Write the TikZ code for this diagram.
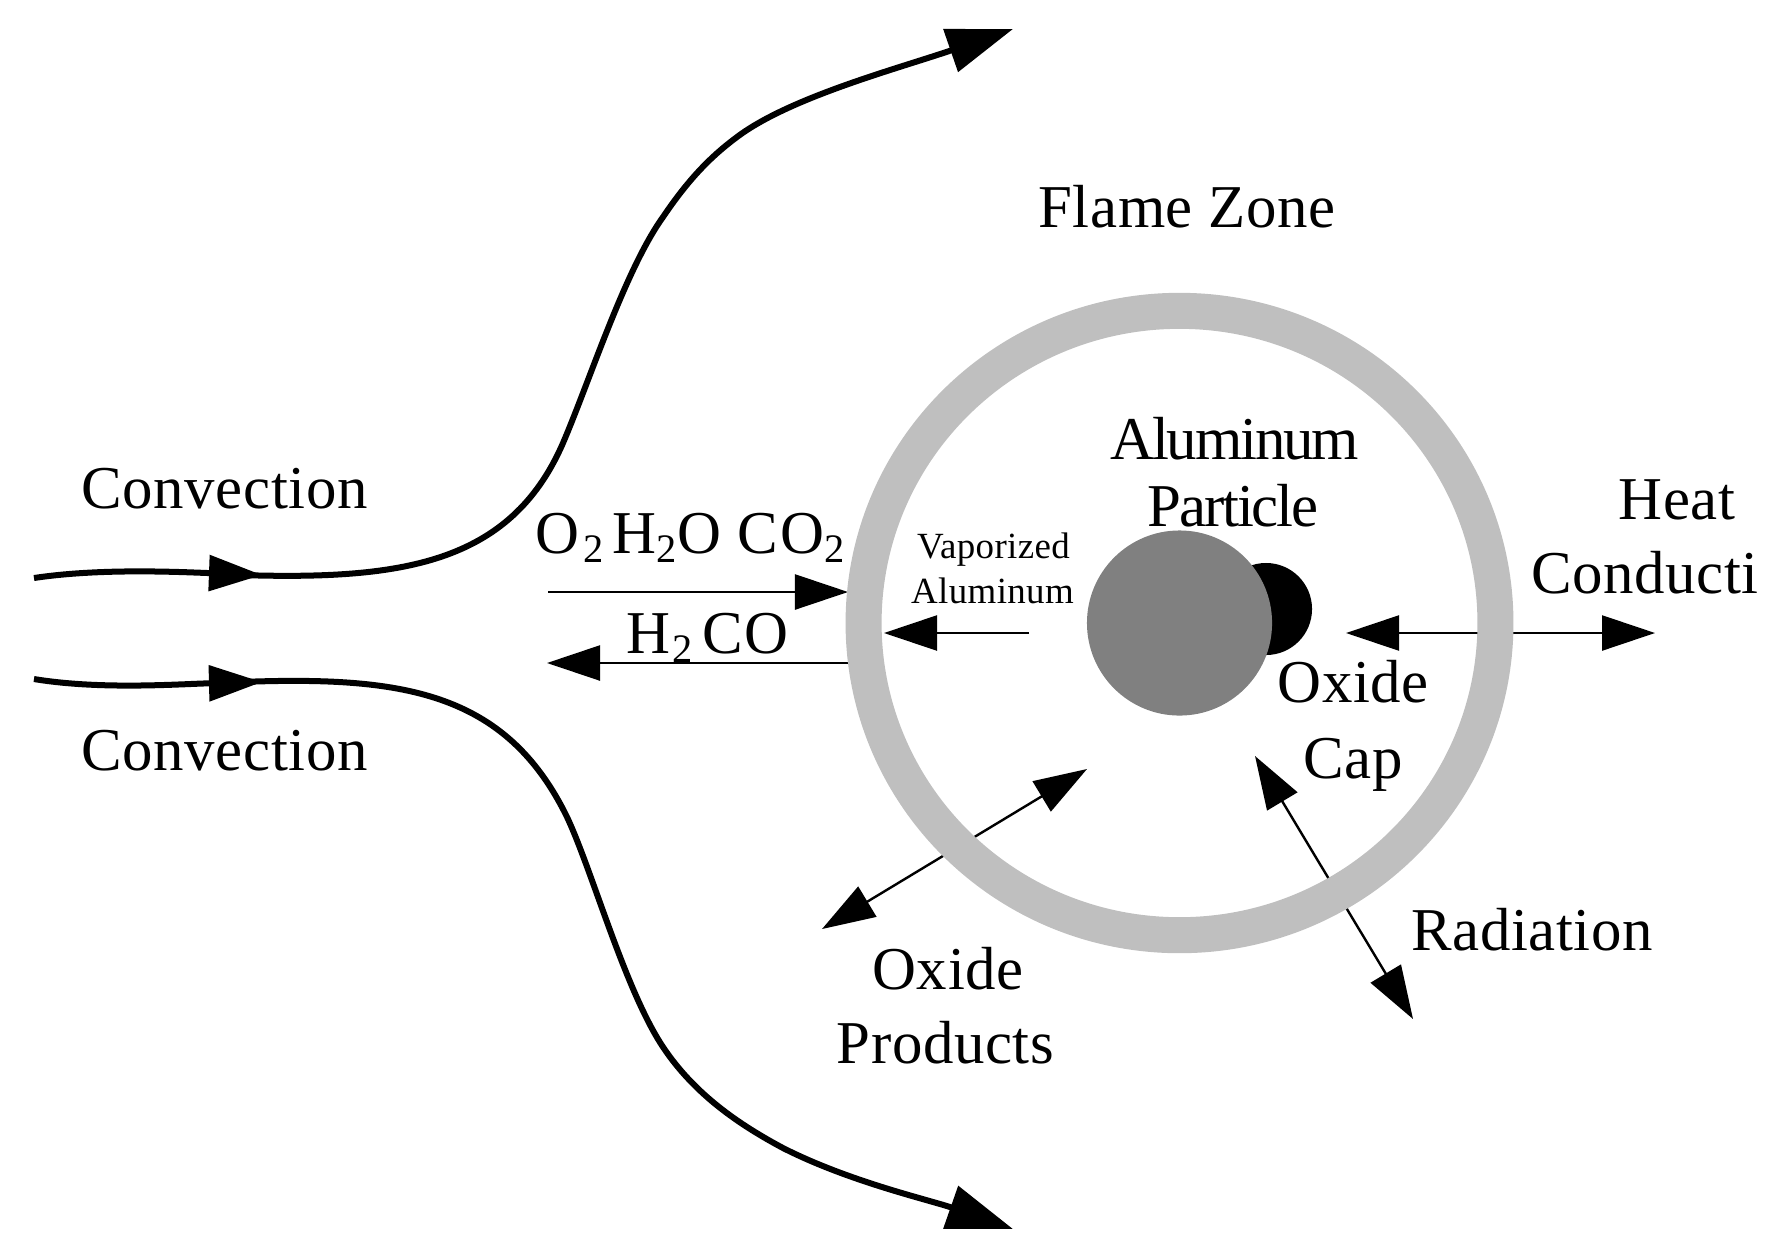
\documentclass[tikz,border=0pt]{standalone}
\usepackage{fontspec}
\setmainfont[LetterSpace=1]{Liberation Serif}
\usetikzlibrary{arrows.meta, shapes.geometric}
\definecolor{RingGray}{RGB}{191, 191, 191}
\definecolor{ParticleGray}{RGB}{128, 128, 128}
\newcommand{\subtwo}{\raisebox{-0.15em}{\fontsize{11.5}{12}\selectfont 2}}
\tikzset{
    bigtext/.style = {font = \fontsize{17.3}{20}\selectfont, inner sep = 0pt, anchor = base},
    tighttext/.style = {font = \fontsize{17.3}{20}\selectfont\addfontfeature{LetterSpace=-3.5}, inner sep = 0pt, anchor = base},
    smalltext/.style = {font = \fontsize{10.5}{12}\selectfont, inner sep = 0pt, anchor = base},
    midline/.style = {line width = 0.06cm, -{Triangle[length = 0.53cm, width = 0.35cm]}},
    flowline/.style = {line width = 0.06cm, -{Triangle[length = 0.66cm, width = 0.44cm]}},
    thinline/.style = {line width = 0.024cm, -{Triangle[length = 0.53cm, width = 0.35cm]}},
    bothline/.style = {line width = 0.024cm, {Triangle[length = 0.53cm, width = 0.35cm]}-{Triangle[length = 0.53cm, width = 0.35cm]}}
}

\begin{document}
\begin{tikzpicture}[x = 0.01cm, y = -0.01cm]
    \useasboundingbox (0, 0) rectangle (1774, 1251);
    %arrow ends
    \coordinate (upstart) at (34, 578);
    \coordinate (upmid) at (262, 575);
    \coordinate (upjoin) at (240, 575);
    \coordinate (upend) at (1013, 29);
    \coordinate (lowstart) at (34, 679);
    \coordinate (lowmid) at (262, 682);
    \coordinate (lowjoin) at (240, 682);
    \coordinate (lowend) at (1013, 1229);
    \coordinate (inleft) at (548, 592);
    \coordinate (inright) at (848, 592);
    \coordinate (outright) at (850, 663);
    \coordinate (outleft) at (547, 663);
    \coordinate (vapright) at (1029, 633);
    \coordinate (vapleft) at (884, 633);
    \coordinate (heatleft) at (1346, 633);
    \coordinate (heatright) at (1655, 633);
    \coordinate (oxout) at (822, 929);
    \coordinate (oxin) at (1087, 769);
    \coordinate (radin) at (1255, 756);
    \coordinate (radout) at (1413, 1019);
    %streamlines
    \draw[midline] (upstart) .. controls (100, 568) and (180, 572) .. (upmid);
    \draw[flowline] (upjoin) .. controls (400, 580) and (510, 565) .. (563, 443)
        .. controls (590, 380) and (625, 270) .. (663, 217)
        .. controls (688, 180) and (710, 157) .. (737, 137)
        .. controls (790, 97) and (900, 68) .. (upend);
    \draw[midline] (lowstart) .. controls (100, 690) and (180, 684) .. (lowmid);
    \draw[flowline] (lowjoin) .. controls (400, 676) and (505, 690) .. (567, 817)
        .. controls (592, 870) and (625, 990) .. (663, 1047)
        .. controls (695, 1095) and (740, 1125) .. (783, 1148)
        .. controls (850, 1182) and (930, 1200) .. (lowend);
    %arrows at the flame
    \draw[thinline] (inleft) -- (inright);
    \draw[thinline] (outright) -- (outleft);
    \draw[thinline] (vapright) -- (vapleft);
    \draw[bothline] (heatleft) -- (heatright);
    \draw[bothline] (oxout) -- (oxin);
    \draw[bothline] (radin) -- (radout);
    %flame ring and particle
    \node[ellipse, draw = RingGray, line width = 0.36cm, minimum width = 6.315cm, minimum height = 6.24cm, inner sep = 0pt] (flame) at (1179.5, 623) {};
    \node[circle, fill = black, minimum size = 0.92cm, inner sep = 0pt] (cap) at (1266, 609) {};
    \node[circle, fill = ParticleGray, minimum size = 1.85cm, inner sep = 0pt] (particle) at (1179.5, 623) {};
    %labels
    \node[bigtext] (convup) at (224.5, 508) {Convection};
    \node[bigtext] (convlow) at (224.5, 770) {Convection};
    \node[bigtext] (zone) at (1187, 227) {Flame Zone};
    \node[bigtext, anchor = base west] (gasin) at (535, 553) {O\hspace{.04cm}\subtwo\hspace{.09cm}H\subtwo O\hspace{.17cm}C\hspace{.02cm}O\subtwo};
    \node[bigtext, anchor = base west] (gasout) at (626, 653) {H\hspace{.02cm}\subtwo\hspace{.1cm}CO};
    \node[smalltext] (vapa) at (993.5, 558) {Vaporized};
    \node[smalltext] (vapb) at (992.5, 603) {Aluminum};
    \node[tighttext] (alu) at (1234.5, 459) {Aluminum};
    \node[tighttext] (part) at (1233, 526) {Particle};
    \node[bigtext] (heat) at (1677, 519) {Heat};
    \node[bigtext] (cond) at (1645, 593) {Conducti};
    \node[bigtext] (oxide) at (1353, 702) {Oxide};
    \node[bigtext] (capl) at (1353, 778) {Cap};
    \node[bigtext] (rad) at (1532, 950) {Radiation};
    \node[bigtext] (oxa) at (948, 989) {Oxide};
    \node[bigtext] (oxb) at (945.5, 1063) {Products};
\end{tikzpicture}
\end{document}
